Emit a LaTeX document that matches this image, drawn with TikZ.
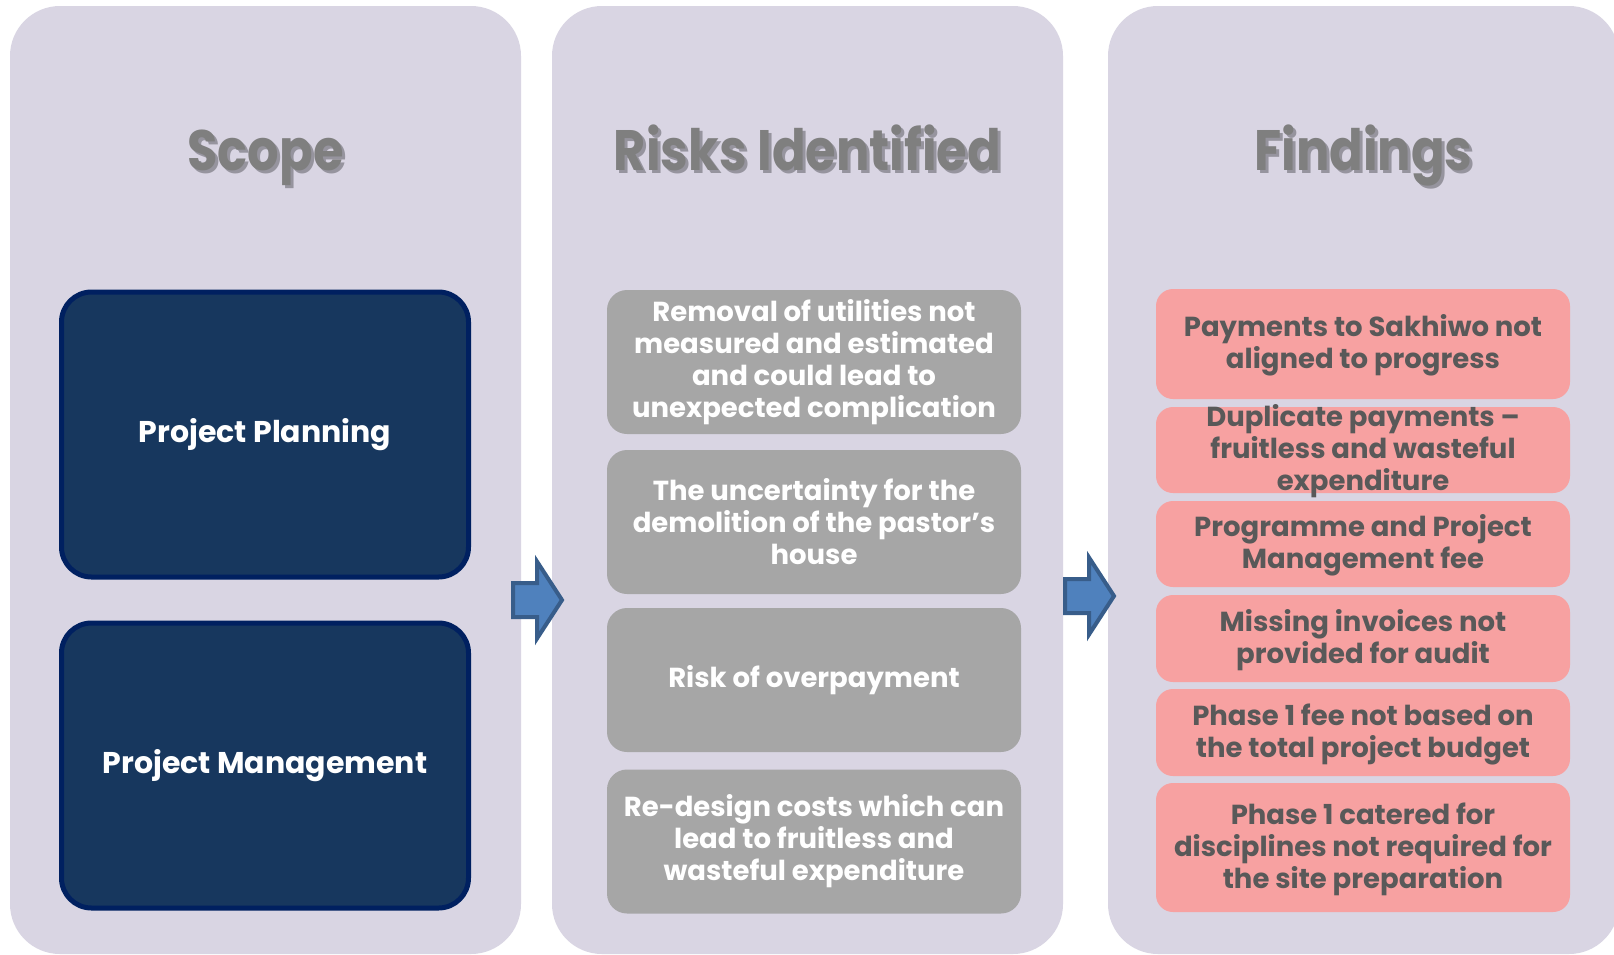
\documentclass[tikz,border=0pt]{standalone}
\usepackage{fontspec}
\setmainfont{Poppins}
\newfontfamily\titlefont{Poppins}[FakeStretch=0.87]
\usepackage{tikz}
\usetikzlibrary{calc}
\definecolor{panelbg}{RGB}{217,213,227}
\definecolor{titlegray}{RGB}{127,127,127}
\definecolor{titleshade}{RGB}{150,148,158}
\definecolor{navyfill}{RGB}{23,55,94}
\definecolor{navyline}{RGB}{0,32,96}
\definecolor{riskgray}{RGB}{166,166,166}
\definecolor{findpink}{RGB}{247,161,161}
\definecolor{findtext}{RGB}{89,89,89}
\definecolor{arrowfill}{RGB}{79,129,189}
\definecolor{arrowline}{RGB}{56,93,138}
\newcommand\shadowed[1]{\makebox[0pt][l]{\kern3pt\raisebox{-3.5pt}{\textcolor{titleshade}{#1}}}#1}

\begin{document}
\begin{tikzpicture}[x=1pt,y=-1pt,
  panel/.style={fill=panelbg,rounded corners=50pt,minimum width=511pt,minimum height=948pt,inner sep=0pt},
  title/.style={anchor=base,text=titlegray,font=\fontsize{57}{60}\selectfont\titlefont\bfseries},
  scopebox/.style={draw=navyline,line width=5pt,fill=navyfill,rounded corners=30pt,
    minimum width=407pt,minimum height=285pt,text=white,font=\fontsize{30}{34}\selectfont\bfseries},
  riskbox/.style={fill=riskgray,rounded corners=20pt,minimum width=414pt,minimum height=144pt,inner sep=0pt},
  findbox/.style={fill=findpink,rounded corners=17pt,minimum width=414pt,inner sep=0pt},
  boxtext/.style={align=center,inner sep=0pt,font=\fontsize{27.5}{32}\selectfont\bfseries},
  blockarrow/.style={fill=arrowfill,draw=arrowline,line width=4pt,line join=miter}]
  \useasboundingbox[fill=white] (0,0) rectangle (1614,954);

  \node[panel] (scopecol) at (265.5,480) {};
  \node[panel] (riskcol) at (807.5,480) {};
  \node[panel] (findcol) at (1363.5,480) {};

  \foreach \n/\x/\t in {scope/265.5/Scope,risk/807.5/Risks Identified,find/1363.5/Findings}
    \node[title] (\n-title) at (\x,170) {\shadowed{\t}};

  \node[scopebox] (planning) at (265,434.5) {Project Planning};
  \node[scopebox] (management) at (265,765.5) {Project Management};

  \foreach \i/\y/\t in {1/362/{Removal of utilities not\\measured and estimated\\and could lead to\\unexpected complication},
      2/522/{The uncertainty for the\\demolition of the pastor’s\\house},
      3/680/{Risk of overpayment},
      4/841.5/{Re-design costs which can\\lead to fruitless and\\wasteful expenditure}}{
    \node[riskbox] (risk\i) at (814,\y) {};
    \node[boxtext,text=white] (risk\i-text) at (risk\i) {\t};
  }

  \foreach \i/\y/\h/\t in {1/344/110/{Payments to Sakhiwo not\\aligned to progress},
      2/450/86/{Duplicate payments –\\fruitless and wasteful\\expenditure},
      3/544/86/{Programme and Project\\Management fee},
      4/638.5/87/{Missing invoices not\\provided for audit},
      5/732.5/87/{Phase 1 fee not based on\\the total project budget},
      6/847.5/129/{Phase 1 catered for\\disciplines not required for\\the site preparation}}{
    \node[findbox,minimum height=\h] (find\i) at (1363,\y) {};
    \node[boxtext,text=findtext] (find\i-text) at ($(find\i)+(0,1.5)$) {\t};
  }

  \foreach \x/\y in {513/600,1065/596}
    \draw[blockarrow] (\x,\y) ++(0,-17) -- ++(24,0) -- ++(0,-21.5) -- ++(25,38.5)
      -- ++(-25,38.5) -- ++(0,-21.5) -- ++(-24,0) -- cycle;
\end{tikzpicture}
\end{document}
